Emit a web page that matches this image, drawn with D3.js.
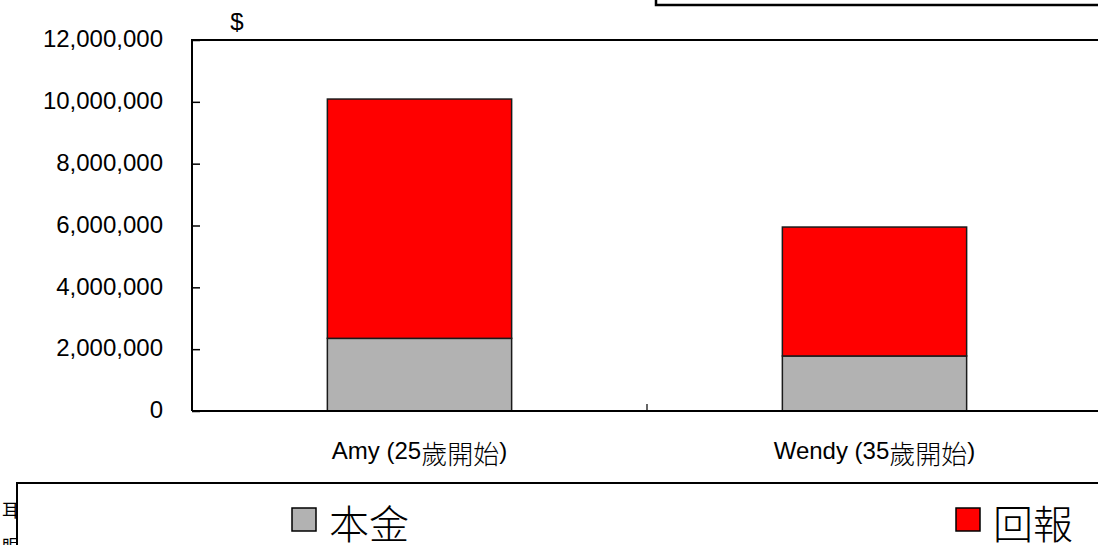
<!DOCTYPE html>
<html>
<head>
<meta charset="utf-8">
<script src="https://cdn.jsdelivr.net/npm/d3@7"></script>
<style>
  body { margin: 0; background: #fff; }
  svg { display: block; font-family: "Liberation Sans", Arial, sans-serif; }
  .tick text { font-size: 24px; fill: #000; }
</style>
</head>
<body>
<svg id="chart" width="1098" height="545"></svg>
<script>
// Data
const people = ["Amy", "Wendy"];
const startAge = ["25", "35"];
const principal = [2350000, 1780000];   // 本金
const returns = [7740000, 4170000];     // 回報
const seriesNames = ["本金", "回報"];
const seriesColors = ["#b2b2b2", "#ff0000"];
const yTicks = [0, 2000000, 4000000, 6000000, 8000000, 10000000, 12000000];

const svg = d3.select("#chart");
const plot = {left: 192, top: 40, right: 1102, bottom: 411};

const x = d3.scaleBand()
    .domain(people)
    .range([plot.left, plot.right])
    .paddingInner(0.595)
    .paddingOuter(0.2975);
const y = d3.scaleLinear().domain([0, 12000000]).range([plot.bottom, plot.top]);

// Stack the two series
const rows = people.map((p, i) => ({name: p, "本金": principal[i], "回報": returns[i]}));
const stacked = d3.stack().keys(seriesNames)(rows);

// Bars
svg.append("g").selectAll("g")
    .data(stacked).enter()
    .append("g")
        .attr("fill", (d, i) => seriesColors[i])
    .selectAll("rect")
    .data(d => d).enter()
    .append("rect")
        .attr("x", d => x(d.data.name))
        .attr("y", d => y(d[1]))
        .attr("width", x.bandwidth())
        .attr("height", d => y(d[0]) - y(d[1]))
        .attr("stroke", "#1a1a1a")
        .attr("stroke-width", 1.5);

// Y axis with inside ticks
const yAxis = svg.append("g")
    .attr("transform", "translate(" + plot.left + ",0)")
    .call(d3.axisLeft(y).tickValues(yTicks).tickFormat(d3.format(",")).tickSize(-8).tickPadding(29));
yAxis.select(".domain").remove();
yAxis.selectAll(".tick line").attr("stroke", "#000").attr("stroke-width", 1.5);
yAxis.selectAll(".tick text").attr("dy", "0.28em");

// Plot frame
svg.append("path")
    .attr("d", "M" + plot.left + "," + plot.bottom + "V" + plot.top + "H1100 M" + plot.left + "," + plot.bottom + "H1100")
    .attr("fill", "none")
    .attr("stroke", "#000")
    .attr("stroke-width", 2);

// Category divider tick
const divX = x(people[1]) - (x.step() - x.bandwidth()) / 2;
svg.append("line")
    .attr("x1", divX).attr("x2", divX)
    .attr("y1", plot.bottom).attr("y2", plot.bottom - 7)
    .attr("stroke", "#000").attr("stroke-width", 1.2);

// Category labels
const cat = svg.append("g").selectAll("text")
    .data(people).enter()
    .append("text")
        .attr("x", d => x(d) + x.bandwidth() / 2)
        .attr("y", 459)
        .attr("text-anchor", "middle")
        .style("font-size", "24px");
cat.append("tspan").text((d, i) => d + " (" + startAge[i]);
cat.append("tspan")
    .attr("dy", 5)
    .style("font-family", "Noto Sans CJK TC, sans-serif")
    .style("font-size", "26px")
    .style("font-weight", 300)
    .text("歲開始");
cat.append("tspan").attr("dy", -5).text(")");

// "$" unit label
svg.append("text")
    .attr("x", 237).attr("y", 30)
    .attr("text-anchor", "middle")
    .style("font-size", "24px")
    .text("$");

// Top right box (cut off title box)
svg.append("rect")
    .attr("x", 656).attr("y", -20)
    .attr("width", 460).attr("height", 25)
    .attr("fill", "#fff")
    .attr("stroke", "#000")
    .attr("stroke-width", 2.5);

// Clipped text on the far left, mostly hidden behind the legend
svg.append("text")
    .attr("x", 2).attr("y", 517)
    .style("font-family", "Noto Sans CJK TC, sans-serif")
    .style("font-size", "18px")
    .text("耳");
svg.append("text")
    .attr("x", 2).attr("y", 553)
    .style("font-family", "Noto Sans CJK TC, sans-serif")
    .style("font-size", "18px")
    .text("眼");

// Legend box
svg.append("rect")
    .attr("x", 17).attr("y", 483)
    .attr("width", 1100).attr("height", 100)
    .attr("fill", "#fff")
    .attr("stroke", "#000")
    .attr("stroke-width", 2);

const legendX = [292, 956];
const legend = svg.append("g").selectAll("g")
    .data(seriesNames).enter()
    .append("g")
        .attr("transform", (d, i) => "translate(" + legendX[i] + ",508)");
legend.append("rect")
    .attr("width", 24).attr("height", 23)
    .attr("fill", (d, i) => seriesColors[i])
    .attr("stroke", "#000")
    .attr("stroke-width", 1.5);
legend.append("text")
    .attr("x", 37).attr("y", 31)
    .style("font-family", "Noto Sans CJK TC, sans-serif")
    .style("font-size", "40px")
    .style("font-weight", 300)
    .text(d => d);
</script>
</body>
</html>
